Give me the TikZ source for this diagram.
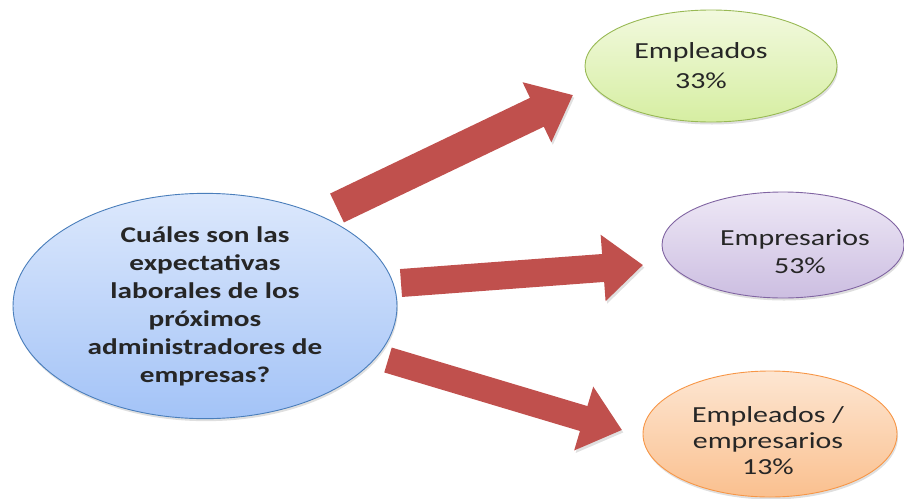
\documentclass[tikz,border=0pt]{standalone}
\usepackage{fontspec}
\setmainfont[FakeStretch=1.3]{Carlito}
\usetikzlibrary{shapes.geometric,arrows.meta,shadows}

\definecolor{arrowred}{HTML}{C0504D}
\definecolor{qline}{HTML}{4A7EBB}
\definecolor{qtop}{HTML}{DCE8FC}
\definecolor{qbot}{HTML}{A3C3F7}
\definecolor{gline}{HTML}{98B954}
\definecolor{gtop}{HTML}{F2F9DE}
\definecolor{gbot}{HTML}{D6EEA2}
\definecolor{pline}{HTML}{8064A2}
\definecolor{ptop}{HTML}{EEE8F6}
\definecolor{pbot}{HTML}{CCBEE1}
\definecolor{oline}{HTML}{F79646}
\definecolor{otop}{HTML}{FDE6D2}
\definecolor{obot}{HTML}{FAC08F}

\tikzset{
  bubble/.style={ellipse, draw, line width=0.9pt, inner sep=0pt, align=center,
    text=black!85, font=\fontsize{23}{30}\selectfont,
    drop shadow={shadow xshift=1pt, shadow yshift=-2.5pt, opacity=0.25}},
  bubtext/.style={align=center, inner sep=0pt, text=black!85, font=\fontsize{23}{28}\selectfont},
  question/.style={bubble, draw=qline, top color=qtop, bottom color=qbot,
    minimum width=384pt, minimum height=206pt, font=\fontsize{22.5}{28}\selectfont\bfseries},
  bigarrow/.style={arrowred, line width=28pt, -{Triangle[width=64pt,length=40pt]},
    preaction={draw=black!12, transform canvas={xshift=1.5pt, yshift=-2.5pt}}}
}

\begin{document}
\begin{tikzpicture}[x=1pt, y=-1pt]
\useasboundingbox (0,0) rectangle (904,498);

% central question
\node[question] (preg) at (205,306) {Cuáles son las\\expectativas\\laborales de los\\próximos\\administradores de\\empresas?};

% answers
\node[bubble, draw=gline, top color=gtop, bottom color=gbot,
  minimum width=252pt, minimum height=112pt] (empl) at (711,66) {\hspace*{-20pt}Empleados\\\hspace*{-20pt}33\%};
\node[bubble, draw=pline, top color=ptop, bottom color=pbot,
  minimum width=242pt, minimum height=106pt] (empr) at (783,245) {};
\node[bubtext] (emprtxt) at ([xshift=12pt, yshift=-7pt]empr.center) {Empresarios\\\hspace*{10pt}53\%};
\node[bubble, draw=oline, top color=otop, bottom color=obot,
  minimum width=254pt, minimum height=126pt] (ambos) at (770,434) {};
\node[bubtext, font=\fontsize{23}{26}\selectfont] (ambostxt) at ([xshift=-2pt, yshift=-7pt]ambos.center) {Empleados /\\empresarios\\13\%};

% arrow ends
\coordinate (a1) at (337,208);
\coordinate (b1) at (573,95);
\coordinate (a2) at (401,283);
\coordinate (b2) at (643,265);
\coordinate (a3) at (388,360);
\coordinate (b3) at (622,430);

\draw[bigarrow, line width=32pt] (a1) -- (b1);
\draw[bigarrow] (a2) -- (b2);
\draw[bigarrow, line width=26pt] (a3) -- (b3);
\end{tikzpicture}
\end{document}
